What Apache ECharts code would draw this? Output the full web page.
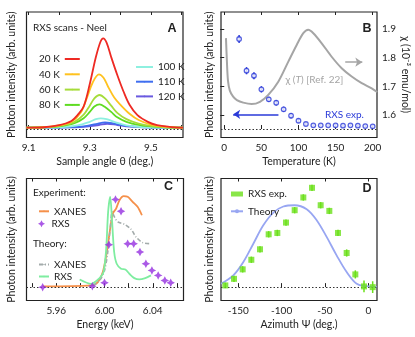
<!DOCTYPE html>
<html>
<head>
<meta charset="utf-8">
<script src="https://cdn.jsdelivr.net/npm/echarts@6/dist/echarts.min.js"></script>
<style>
html, body { margin: 0; padding: 0; background: #fff; }
#main { width: 415px; height: 337px; }
</style>
</head>
<body>
<div id="main"></div>
<script>
// ---- panel A: RXS scans at several temperatures
var scanNames = ['20 K', '40 K', '60 K', '80 K', '100 K', '110 K', '120 K']
var theta20 = [9.093, 9.15, 9.20, 9.24, 9.26, 9.28, 9.30, 9.32, 9.335, 9.344, 9.355, 9.37, 9.39, 9.41, 9.43, 9.456, 9.49, 9.52, 9.56, 9.605]
var int20 = [0.015, 0.02, 0.044, 0.09, 0.155, 0.25, 0.5, 0.8, 0.97, 1.008, 0.96, 0.8, 0.6, 0.42, 0.27, 0.155, 0.08, 0.044, 0.025, 0.015]
var theta40 = [9.093, 9.15, 9.20, 9.24, 9.27, 9.29, 9.31, 9.33, 9.345, 9.36, 9.38, 9.40, 9.43, 9.46, 9.50, 9.55, 9.605]
var int40 = [0.015, 0.02, 0.04, 0.08, 0.18, 0.34, 0.52, 0.608, 0.57, 0.47, 0.35, 0.27, 0.17, 0.1, 0.05, 0.025, 0.015]
var theta60 = [9.093, 9.15, 9.20, 9.25, 9.28, 9.30, 9.315, 9.332, 9.35, 9.37, 9.39, 9.42, 9.46, 9.50, 9.55, 9.605]
var int60 = [0.015, 0.02, 0.035, 0.08, 0.16, 0.26, 0.34, 0.378, 0.34, 0.26, 0.18, 0.11, 0.06, 0.035, 0.02, 0.015]
var int80 = [0.015, 0.02, 0.03, 0.065, 0.12, 0.19, 0.25, 0.274, 0.245, 0.19, 0.13, 0.08, 0.045, 0.03, 0.02, 0.015]
var theta100 = [9.093, 9.20, 9.26, 9.30, 9.32, 9.336, 9.355, 9.38, 9.42, 9.48, 9.605]
var int100 = [0.015, 0.02, 0.04, 0.08, 0.11, 0.119, 0.11, 0.08, 0.04, 0.02, 0.015]
var theta110 = [9.093, 9.20, 9.28, 9.32, 9.35, 9.38, 9.42, 9.48, 9.605]
var int110 = [0.015, 0.017, 0.03, 0.055, 0.074, 0.06, 0.035, 0.02, 0.015]
var theta120 = [9.093, 9.20, 9.28, 9.33, 9.357, 9.39, 9.43, 9.50, 9.605]
var int120 = [0.015, 0.017, 0.025, 0.045, 0.059, 0.045, 0.027, 0.018, 0.015]
var thetaTicks = [9.1, 9.2, 9.3, 9.4, 9.5, 9.6]
var thetaLabels = [9.1, 9.3, 9.5]

// ---- panel B: temperature dependence + susceptibility
var tempK = [20, 30, 40, 50, 60, 70, 80, 90, 100, 110, 120, 130, 140, 150, 160, 170, 180, 190, 200]
var rxsT = [1.0, 0.648, 0.592, 0.441, 0.33, 0.292, 0.219, 0.148, 0.092, 0.056, 0.041, 0.041, 0.041, 0.041, 0.037, 0.041, 0.037, 0.033, 0.03]
var rxsTErr = [0.045, 0.04, 0.04, 0.035, 0.03, 0.03, 0.03, 0.03, 0.025, 0.02, 0.015, 0.015, 0.015, 0.015, 0.015, 0.015, 0.015, 0.015, 0.015]
var chiT = [2.3, 3.5, 5, 7.5, 12, 17, 25.6, 36.9, 48.1, 59.3, 72.8, 86.3, 97.6, 106.5, 113.2, 120, 131.3, 144.7, 158.2, 171.7, 185.2, 198.7, 206]
var chiVal = [1.868, 1.79, 1.72, 1.685, 1.664, 1.652, 1.643, 1.638, 1.646, 1.670, 1.716, 1.786, 1.844, 1.885, 1.897, 1.885, 1.850, 1.803, 1.763, 1.734, 1.711, 1.693, 1.68]
var tempTicks = [0, 50, 100, 150, 200]
var chiTicks = [1.6, 1.7, 1.8, 1.9]

// ---- panel C: energy scans
var eXanesExp = [5.9487, 5.989, 5.9945, 5.9986, 6.0019, 6.0047, 6.0069, 6.0096, 6.0124, 6.0159, 6.0192, 6.0233, 6.0274, 6.031]
var xanesExp = [0.008, 0.019, 0.056, 0.167, 0.389, 0.648, 0.815, 0.87, 0.963, 1.007, 1.0, 0.944, 0.889, 0.796]
var eRxsExp = [5.9487, 5.9899, 6.0, 6.0036, 6.0091, 6.0137, 6.0192, 6.0242, 6.0294, 6.0343, 6.0393, 6.0445, 6.05, 6.0549]
var rxsExp = [0, 0.011, 0.048, 0.47, 0.97, 0.841, 0.481, 0.481, 0.389, 0.259, 0.185, 0.13, 0.074, 0.048]
var eXanesTh = [5.9904, 5.9959, 6.0, 6.0027, 6.0047, 6.0063, 6.0082, 6.011, 6.0165, 6.022, 6.0261, 6.0316, 6.0385]
var xanesTh = [0.019, 0.074, 0.185, 0.389, 0.648, 0.833, 0.778, 0.722, 0.696, 0.641, 0.556, 0.493, 0.481]
var eRxsTh = [5.9794, 5.989, 5.9959, 5.9992, 6.0014, 6.003, 6.0047, 6.0063, 6.008, 6.0101, 6.0137, 6.0173, 6.0206, 6.0247, 6.0288, 6.0338, 6.0385]
var rxsTh = [0.085, 0.037, 0.1, 0.167, 0.426, 0.833, 1.0, 0.722, 0.389, 0.259, 0.204, 0.196, 0.148, 0.1, 0.085, 0.1, 0.13]
var energyTicks = [5.94, 5.96, 5.98, 6.00, 6.02, 6.04, 6.06]
var energyLabels = [5.96, 6.00, 6.04]

// ---- panel D: azimuthal dependence
var psi = [-165, -155, -145, -135, -125, -115, -105, -95, -85, -75, -65, -55, -45, -35, -25, -15, -5, 5]
var rxsPsi = [0.019, 0.092, 0.197, 0.303, 0.419, 0.585, 0.6, 0.715, 0.852, 0.993, 1.1, 0.907, 0.844, 0.6, 0.378, 0.141, 0.008, 0]
var rxsPsiErr = [0.03, 0.035, 0.035, 0.035, 0.035, 0.035, 0.035, 0.035, 0.035, 0.035, 0.035, 0.035, 0.035, 0.035, 0.04, 0.045, 0.065, 0.065]
var psiTh = [-170, -155.8, -144.2, -132.7, -121.2, -109.6, -98.1, -85, -71.1, -59.6, -48.1, -36.6, -25, -13.4, -1.8, 10]
var theoryPsi = [0.037, 0.13, 0.278, 0.481, 0.685, 0.826, 0.893, 0.907, 0.863, 0.741, 0.556, 0.352, 0.167, 0.037, 0.01, 0]
var psiTicks = [-150, -100, -50, 0]

var font = 'Lato, "Open Sans", sans-serif'
var ink = '#222'
var blue = '#2a3ad8'
var scanColors = ['#ee2a24', '#ffc21f', '#a6dc3a', '#5fdc22', '#8ef0e0', '#3f6ef0', '#6a5ae0']
var star = 'path://M0,-10 L3.4,-3.4 L10,0 L3.4,3.4 L0,10 L-3.4,3.4 L-10,0 L-3.4,-3.4 Z'

function zip(xs, ys) {
    return xs.map(function (x, i) { return [x, ys[i]] })
}

function bottomAxis(grid, min, max, ticks, labels, digits, name) {
    return {
        type: 'value', gridIndex: grid, min: min, max: max, position: 'bottom',
        name: name, nameLocation: 'middle', nameGap: 19,
        nameTextStyle: { fontSize: 10.5, color: ink, fontFamily: font },
        axisLine: { show: false }, splitLine: { show: false },
        axisTick: { show: true, inside: true, length: 4, customValues: ticks, lineStyle: { color: ink, width: 1 } },
        axisLabel: {
            customValues: labels, margin: 5, fontSize: 10, color: ink, fontFamily: font,
            formatter: function (v) { return v.toFixed(digits) }
        }
    }
}

function topAxis(grid, min, max, ticks) {
    return {
        type: 'value', gridIndex: grid, min: min, max: max, position: 'top',
        axisLine: { show: false }, splitLine: { show: false }, axisLabel: { show: false },
        axisTick: { show: true, inside: true, length: 3, customValues: ticks, lineStyle: { color: ink, width: 1 } }
    }
}

function intensityAxis(grid, min, max, gap) {
    return {
        type: 'value', gridIndex: grid, min: min, max: max,
        name: 'Photon intensity (arb. units)', nameLocation: 'middle', nameGap: gap,
        nameTextStyle: { fontSize: 10.5, color: ink, fontFamily: font },
        axisLine: { show: false }, axisTick: { show: false }, axisLabel: { show: false }, splitLine: { show: false }
    }
}

function errorBars(name, xs, ys, es, color, xi, yi) {
    return {
        type: 'custom', name: name, xAxisIndex: xi, yAxisIndex: yi, silent: true, z: 2,
        encode: { x: 0, y: [1, 2] },
        data: xs.map(function (x, i) { return [x, ys[i] - es[i], ys[i] + es[i]] }),
        renderItem: function (params, api) {
            var a = api.coord([api.value(0), api.value(1)])
            var b = api.coord([api.value(0), api.value(2)])
            return { type: 'line', shape: { x1: a[0], y1: a[1], x2: b[0], y2: b[1] }, style: { stroke: color, lineWidth: 1.5 } }
        }
    }
}

var baseline = { yAxis: 0, symbol: 'none', lineStyle: { type: [1.5, 2], color: '#333', width: 1 } }

function scanLine(i, xs, ys) {
    return {
        type: 'line', name: scanNames[i], xAxisIndex: 0, yAxisIndex: 0,
        data: zip(xs, ys), symbol: 'none', smooth: 0.35, z: 10 - i,
        lineStyle: { color: scanColors[i], width: 1.8 }, itemStyle: { color: scanColors[i] }
    }
}

var series = [
    scanLine(0, theta20, int20),
    scanLine(1, theta40, int40),
    scanLine(2, theta60, int60),
    scanLine(3, theta60, int80),
    scanLine(4, theta100, int100),
    scanLine(5, theta110, int110),
    scanLine(6, theta120, int120),
    {
        type: 'line', name: 'baseA', xAxisIndex: 0, yAxisIndex: 0, data: [], symbol: 'none',
        markLine: { silent: true, symbol: ['none', 'none'], label: { show: false }, data: [baseline] }
    },
    // B
    {
        type: 'line', name: 'chi', xAxisIndex: 2, yAxisIndex: 2, data: zip(chiT, chiVal),
        symbol: 'none', smooth: 0.3, lineStyle: { color: '#a5a5a5', width: 2 },
        markLine: {
            silent: true, symbol: ['none', 'none'], symbolSize: 7, label: { show: false },
            data: [[{ coord: [163, 1.784], symbol: 'none' }, { coord: [186, 1.784], symbol: 'arrow' }]],
            lineStyle: { color: '#a5a5a5', width: 1.5, type: 'solid' }
        }
    },
    errorBars('rxsTErr', tempK, rxsT, rxsTErr, blue, 2, 1),
    {
        type: 'scatter', name: 'rxsT', xAxisIndex: 2, yAxisIndex: 1, data: zip(tempK, rxsT), z: 3,
        symbol: 'circle', symbolSize: 4.5,
        itemStyle: { color: '#fff', borderColor: blue, borderWidth: 1.3 },
        markLine: {
            silent: true, symbol: ['none', 'none'], symbolSize: 7, label: { show: false },
            data: [baseline, [{ coord: [73, 0.163], symbol: 'none', lineStyle: { color: blue, width: 1.5, type: 'solid' } }, { coord: [12, 0.163], symbol: 'arrow' }]]
        }
    },
    // C
    {
        type: 'line', name: 'XANES exp', xAxisIndex: 4, yAxisIndex: 3, data: zip(eXanesExp, xanesExp),
        symbol: 'none', smooth: 0.3, lineStyle: { color: '#f5904a', width: 1.8 }, itemStyle: { color: '#f5904a' },
        markLine: { silent: true, symbol: ['none', 'none'], label: { show: false }, data: [baseline] }
    },
    {
        type: 'line', name: 'XANES theory', xAxisIndex: 4, yAxisIndex: 3, data: zip(eXanesTh, xanesTh),
        symbol: 'none', smooth: 0.3, lineStyle: { color: '#a3abab', width: 1.6, type: [4, 2, 1, 2] }, itemStyle: { color: '#a3abab' }
    },
    {
        type: 'line', name: 'RXS theory', xAxisIndex: 4, yAxisIndex: 3, data: zip(eRxsTh, rxsTh),
        symbol: 'none', smooth: 0.3, lineStyle: { color: '#7eeda0', width: 1.8 }, itemStyle: { color: '#7eeda0' }
    },
    {
        type: 'scatter', name: 'RXS exp', xAxisIndex: 4, yAxisIndex: 3, data: zip(eRxsExp, rxsExp), z: 5,
        symbol: star, symbolSize: 8.5, itemStyle: { color: '#9530e0' }
    },
    // D
    {
        type: 'line', name: 'Theory', xAxisIndex: 6, yAxisIndex: 4, data: zip(psiTh, theoryPsi),
        symbol: 'none', smooth: 0.35, lineStyle: { color: '#98a6f2', width: 1.8 }, itemStyle: { color: '#98a6f2' },
        markLine: { silent: true, symbol: ['none', 'none'], label: { show: false }, data: [baseline] }
    },
    errorBars('psiErr', psi, rxsPsi, rxsPsiErr, '#6be01a', 6, 4),
    {
        type: 'scatter', name: 'RXS exp.', xAxisIndex: 6, yAxisIndex: 4, data: zip(psi, rxsPsi), z: 5,
        symbol: 'rect', symbolSize: 6, itemStyle: { color: '#6be01a' }
    }
]

function gridBox(left, top, width, height) {
    return { left: left, top: top, width: width, height: height, show: true, borderColor: ink, borderWidth: 1.2, backgroundColor: 'transparent' }
}

function legendBox(left, top, names, opts) {
    var l = {
        left: left, top: top, orient: 'vertical', data: names, selectedMode: false,
        itemWidth: 14, itemHeight: 2, itemGap: 3,
        textStyle: { fontSize: 10, color: ink, fontFamily: font, lineHeight: 12 }
    }
    for (var k in opts) l[k] = opts[k]
    return l
}

function label(text, x, y, style) {
    var s = { text: text, x: x, y: y, font: '10px ' + font, fill: ink, verticalAlign: 'middle' }
    for (var k in style) s[k] = style[k]
    return { type: 'text', style: s, z: 100 }
}

var bold = { font: 'bold 12.5px "Liberation Sans", Arial, sans-serif', align: 'center' }
var firstWord = function (n) { return n.split(' ')[0] }

var option = {
    backgroundColor: '#fff',
    animation: false,
    grid: [
        gridBox(26.5, 12, 156.5, 125.5),
        gridBox(221, 12, 156, 125.5),
        gridBox(26.5, 178.5, 157, 122),
        gridBox(221, 178.5, 156, 122)
    ],
    xAxis: [
        bottomAxis(0, 9.093, 9.605, thetaTicks, thetaLabels, 1, 'Sample angle θ (deg.)'),
        topAxis(0, 9.093, 9.605, thetaTicks),
        bottomAxis(1, -4.4, 205.8, tempTicks, tempTicks, 0, 'Temperature (K)'),
        topAxis(1, -4.4, 205.8, tempTicks),
        bottomAxis(2, 5.9353, 6.0655, energyTicks, energyLabels, 2, 'Energy (keV)'),
        topAxis(2, 5.9353, 6.0655, energyTicks),
        bottomAxis(3, -170, 10, psiTicks, psiTicks, 0, 'Azimuth Ψ (deg.)'),
        topAxis(3, -170, 10, psiTicks)
    ],
    yAxis: [
        intensityAxis(0, -0.094, 1.3, 9),
        intensityAxis(1, -0.094, 1.3, 6),
        {
            type: 'value', gridIndex: 1, position: 'right', min: 1.5215, max: 1.959,
            name: 'χ (10⁻³ emu/mol)', nameLocation: 'middle', nameGap: 22, nameRotate: -90,
            nameTextStyle: { fontSize: 10.5, color: ink, fontFamily: font },
            axisLine: { show: false }, splitLine: { show: false },
            axisTick: { show: true, inside: true, length: 4, customValues: chiTicks, lineStyle: { color: ink } },
            axisLabel: {
                customValues: chiTicks, margin: 5, fontSize: 10, color: ink, fontFamily: font,
                formatter: function (v) { return v.toFixed(1) }
            }
        },
        intensityAxis(2, -0.148, 1.203, 9),
        intensityAxis(3, -0.148, 1.203, 6)
    ],
    legend: [
        legendBox(34, 48, scanNames.slice(0, 4), { align: 'right', itemWidth: 15, itemGap: 3.3 }),
        legendBox(130, 56, scanNames.slice(4), { itemWidth: 17, itemGap: 2.7 }),
        legendBox(33, 200.3, ['XANES exp'], { itemWidth: 10, formatter: firstWord }),
        legendBox(33, 212.7, ['RXS exp'], { itemWidth: 10, itemHeight: 7, formatter: firstWord }),
        legendBox(33, 253.5, ['XANES theory', 'RXS theory'], { itemWidth: 10, itemGap: 0, formatter: firstWord }),
        legendBox(225, 183, ['RXS exp.', 'Theory'], { itemWidth: 12, itemHeight: 5, itemGap: 5.3 })
    ],
    graphic: [
        label('RXS scans - Neel', 33, 27.5),
        label('A', 172, 29, bold),
        label('B', 367, 29, bold),
        label('C', 168.5, 187, bold),
        label('D', 367, 189, bold),
        label('Experiment:', 33, 193),
        label('Theory:', 33, 244),
        label('RXS exp.', 325, 114.5, { fill: blue }),
        {
            type: 'text', z: 100,
            style: {
                x: 285.5, y: 79.5, verticalAlign: 'middle', fill: '#a5a5a5', font: '10px ' + font,
                text: '{n|χ (}{i|T}{n|) [Ref. 22]}',
                rich: {
                    n: { fill: '#a5a5a5', font: '10px ' + font },
                    i: { fill: '#a5a5a5', font: 'italic 10px ' + font }
                }
            }
        }
    ],
    series: series
}

var chart = echarts.init(document.getElementById('main'))
chart.setOption(option)
</script>
</body>
</html>
